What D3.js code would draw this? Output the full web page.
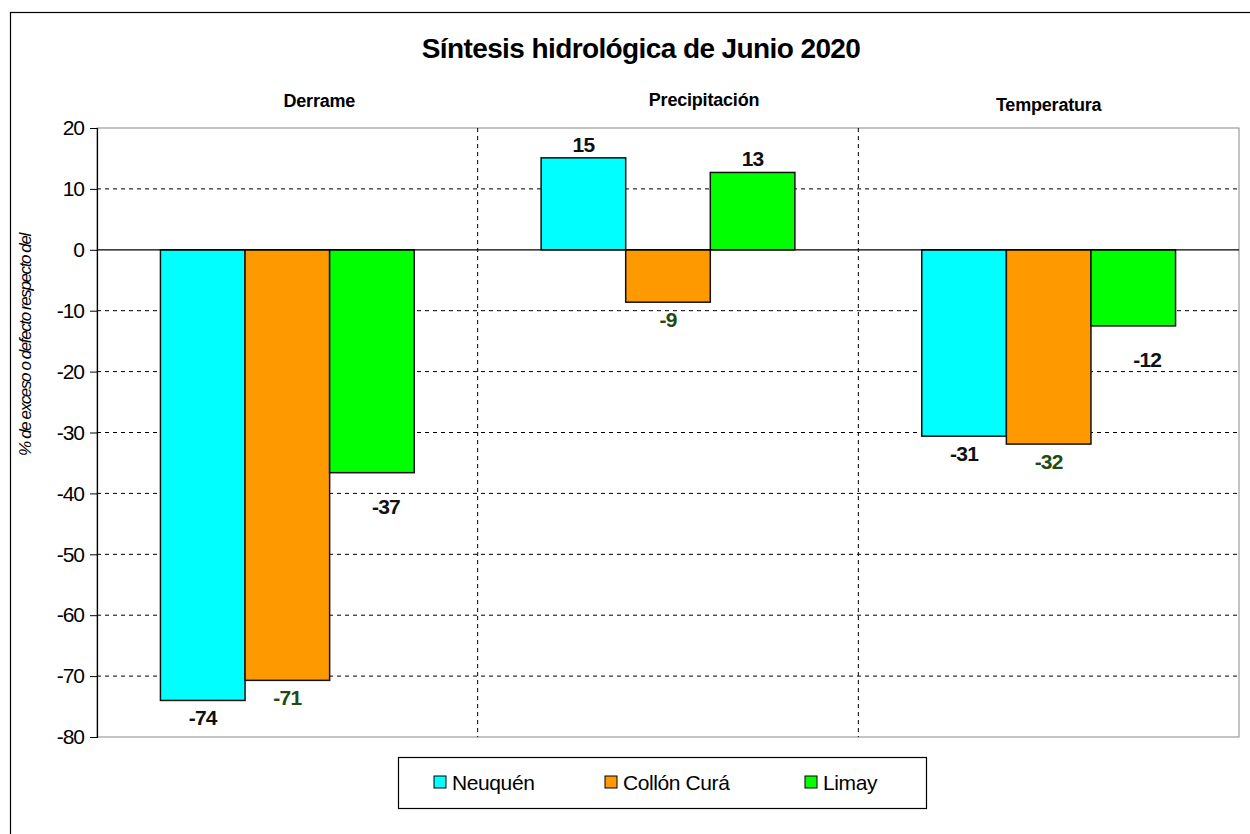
<!DOCTYPE html>
<html><head><meta charset="utf-8">
<script src="https://cdn.jsdelivr.net/npm/d3@7"></script>
<style>
body{margin:0;background:#fff;}
text{font-family:"Liberation Sans",Arial,sans-serif;}
</style></head>
<body>
<svg id="chart" width="1250" height="834"></svg>
<script>
const categories = ["Derrame", "Precipitación", "Temperatura"];
const series = ["Neuquén", "Collón Curá", "Limay"];
const neuquen = [-74, 15.1, -30.6];
const collonCura = [-70.7, -8.6, -31.9];
const limay = [-36.6, 12.7, -12.5];
const yTicks = [20, 10, 0, -10, -20, -30, -40, -50, -60, -70, -80];
const title = "Síntesis hidrológica de Junio 2020";
const yLabel = "% de exceso o defecto respecto del";

const colors = ["#00ffff", "#ff9900", "#00ff00"];
const labelColors = ["#111", "#1f4a14", "#111"];
const values = [neuquen, collonCura, limay];

const svg = d3.select("#chart");
const m = {left: 97, right: 1239, top: 128, bottom: 737};

// outer frame
svg.append("rect").attr("x", 10.5).attr("y", 12.5).attr("width", 1260).attr("height", 840)
  .attr("fill", "none").attr("stroke", "#000").attr("stroke-width", 1.2);

const y = d3.scaleLinear().domain([-80, 20]).range([m.bottom, m.top]);
const x0 = d3.scaleBand().domain(categories).range([m.left, m.right]).padding(0);
const x1 = d3.scaleBand().domain(series).range([0, x0.bandwidth()]).paddingInner(0).paddingOuter(0.75);

// plot area border (grey)
svg.append("rect").attr("x", m.left).attr("y", m.top).attr("width", m.right - m.left).attr("height", m.bottom - m.top)
  .attr("fill", "none").attr("stroke", "#888").attr("stroke-width", 1);

// gridlines
svg.append("g").selectAll("line").data(yTicks.filter(t => t !== 0 && t !== 20 && t !== -80)).join("line")
  .attr("x1", m.left).attr("x2", m.right).attr("y1", d => y(d)).attr("y2", d => y(d))
  .attr("stroke", "#000").attr("stroke-width", 1).attr("stroke-dasharray", "4,4");

// vertical dividers
svg.append("g").selectAll("line").data(categories.slice(1)).join("line")
  .attr("x1", d => x0(d)).attr("x2", d => x0(d)).attr("y1", m.top).attr("y2", m.bottom)
  .attr("stroke", "#000").attr("stroke-width", 1).attr("stroke-dasharray", "4,4");

// y axis
const yAxis = d3.axisLeft(y).tickValues(yTicks).tickSize(7).tickPadding(6).tickFormat(d3.format("d"));
const ya = svg.append("g").attr("transform", `translate(${m.left},0)`).call(yAxis);
ya.select(".domain").attr("stroke", "#000").attr("stroke-width", 1.2);
ya.selectAll(".tick line").attr("stroke", "#000");
ya.selectAll(".tick text").attr("font-size", 21).attr("letter-spacing", -1).attr("fill", "#000")
  .text(d => d < 0 ? "-" + Math.abs(d) : d);

// bars
const groups = svg.append("g").selectAll("g").data(categories).join("g")
  .attr("transform", d => `translate(${x0(d)},0)`);
groups.selectAll("rect").data((c, ci) => series.map((s, si) => ({s, si, v: values[si][ci]}))).join("rect")
  .attr("x", d => x1(d.s)).attr("width", x1.bandwidth())
  .attr("y", d => y(Math.max(0, d.v))).attr("height", d => Math.abs(y(d.v) - y(0)))
  .attr("fill", d => colors[d.si]).attr("stroke", "#111").attr("stroke-width", 1.5);

// zero line
svg.append("line").attr("x1", m.left).attr("x2", m.right).attr("y1", y(0)).attr("y2", y(0))
  .attr("stroke", "#000").attr("stroke-width", 1.2);

// value labels
groups.selectAll("text.val").data((c, ci) => series.map((s, si) => ({s, si, v: values[si][ci]}))).join("text")
  .attr("class", "val")
  .attr("x", d => x1(d.s) + x1.bandwidth() / 2 + (d.si === 2 && d.v < 0 ? 14 : 0))
  .attr("y", d => d.v >= 0 ? y(d.v) - 6 : y(d.v) + (d.si === 2 ? 41 : 25))
  .attr("text-anchor", "middle").attr("font-size", 21).attr("font-weight", "bold").attr("letter-spacing", -0.8)
  .attr("fill", d => labelColors[d.si])
  .text(d => d3.format("d")(Math.round(d.v)).replace("−", "-"));

// category labels
const catOffsets = [32, 36, 0];
const catDy = [0, -1, 4];
svg.append("g").selectAll("text").data(categories).join("text")
  .attr("x", (d, i) => x0(d) + x0.bandwidth() / 2 + catOffsets[i])
  .attr("y", (d, i) => 107 + catDy[i])
  .attr("text-anchor", "middle").attr("font-size", 18).attr("font-weight", "bold").attr("letter-spacing", -0.2)
  .attr("fill", "#000").text(d => d);

// title
svg.append("text").attr("x", 641).attr("y", 58).attr("text-anchor", "middle")
  .attr("font-size", 28).attr("font-weight", "bold").attr("letter-spacing", -0.6).attr("fill", "#000").text(title);

// y label
svg.append("text").attr("transform", `translate(31,${345}) rotate(-90)`).attr("text-anchor", "middle")
  .attr("font-size", 17).attr("font-style", "italic").attr("letter-spacing", -1.4).attr("fill", "#000").text(yLabel);

// legend
const lg = svg.append("g");
lg.append("rect").attr("x", 398.5).attr("y", 757.5).attr("width", 528).attr("height", 51)
  .attr("fill", "#fff").attr("stroke", "#000").attr("stroke-width", 1.2);
const legendX = [434, 605, 805];
const li = lg.selectAll("g").data(series).join("g").attr("transform", (d, i) => `translate(${legendX[i]},776)`);
li.append("rect").attr("width", 12).attr("height", 12).attr("fill", (d, i) => colors[i]).attr("stroke", "#000").attr("stroke-width", 1);
li.append("text").attr("x", 18).attr("y", 14).attr("font-size", 21).attr("letter-spacing", -0.4).attr("fill", "#000").text(d => d);
</script>
</body></html>
